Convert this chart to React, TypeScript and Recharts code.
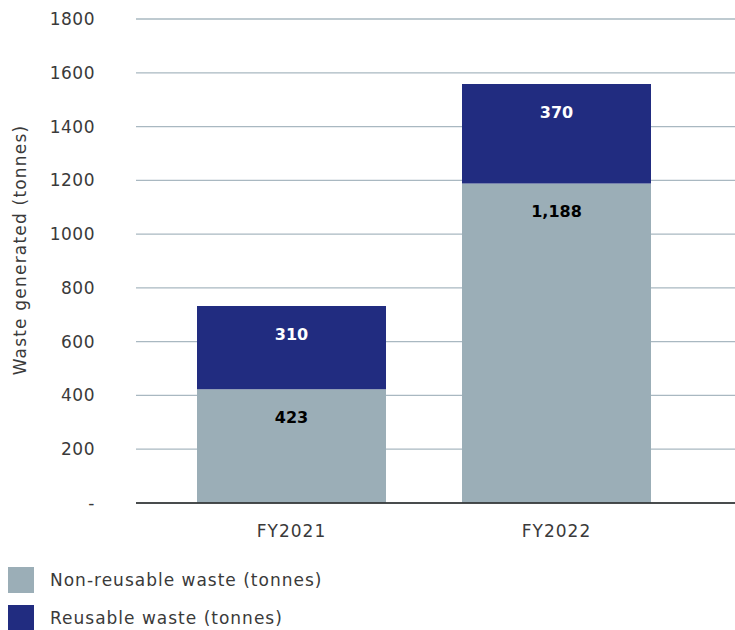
import React from 'react';
import { BarChart, Bar, XAxis, YAxis, CartesianGrid, Legend, LabelList } from 'recharts';

const categories = ['FY2021', 'FY2022'];
const nonReusable = [423, 1188];
const reusable = [310, 370];
const yTicks = [0, 200, 400, 600, 800, 1000, 1200, 1400, 1600, 1800];

const seriesNames = ['Non-reusable waste (tonnes)', 'Reusable waste (tonnes)'];
const GRAY = '#9BAEB7';
const NAVY = '#212C80';
const FONT = '"DejaVu Sans", sans-serif';
const TEXT = '#3a3a3a';

const data = categories.map((c, i) => ({ name: c, nonReusable: nonReusable[i], reusable: reusable[i] }));

const fmt = (v: number) => v.toLocaleString('en-US');

const LegendContent = () => (
  <div style={{ height: 64, position: 'relative', fontFamily: FONT }}>
    {[GRAY, NAVY].map((col, i) => (
      <div key={i} style={{ position: 'absolute', left: 8, top: 1 + i * 38, display: 'flex', alignItems: 'center', whiteSpace: 'nowrap' }}>
        <div style={{ width: 26, height: 26, background: col }} />
        <span style={{ marginLeft: 16, fontSize: 17, letterSpacing: 1, color: TEXT }}>{seriesNames[i]}</span>
      </div>
    ))}
  </div>
);

export default function App() {
  return (
    <div style={{ position: 'absolute', left: 0, top: 0, width: 735, height: 630, overflow: 'hidden', background: '#fff' }}>
      <BarChart width={735} height={630} data={data} margin={{ top: 19, right: 0, bottom: 0, left: 0 }}>
        <CartesianGrid vertical={false} stroke="#A9B8C1" strokeWidth={1.3} />
        <XAxis
          dataKey="name"
          height={63}
          padding={{ left: 23, right: 46 }}
          axisLine={{ stroke: '#222', strokeWidth: 1.5 }}
          tickLine={false}
          tickMargin={16}
          tick={{ fontSize: 17, fill: TEXT, fontFamily: FONT, letterSpacing: 1 }}
        />
        <YAxis
          width={136}
          domain={[0, 1800]}
          ticks={yTicks}
          axisLine={false}
          tickLine={false}
          tickSize={0}
          tickMargin={41}
          interval={0}
          tickFormatter={(v: number) => (v === 0 ? '-' : String(v))}
          tick={{ fontSize: 17, fill: TEXT, fontFamily: FONT, letterSpacing: 0.5 }}
          label={{
            content: (props: any) => {
              const vb = props.viewBox;
              const cx = vb.x + 20;
              const cy = vb.y + vb.height / 2 - 11;
              return (
                <text x={cx} y={cy} transform={`rotate(-90, ${cx}, ${cy})`} textAnchor="middle" dominantBaseline="central" fontSize={17} letterSpacing={1.2} fill={TEXT} fontFamily={FONT}>
                  Waste generated (tonnes)
                </text>
              );
            },
          }}
        />
        <Legend verticalAlign="bottom" align="left" layout="horizontal" content={<LegendContent />} />
        <Bar dataKey="nonReusable" stackId="a" fill={GRAY} barSize={189} isAnimationActive={false} name={seriesNames[0]}>
          <LabelList dataKey="nonReusable" position="insideTop" offset={22} formatter={(v: any) => fmt(Number(v))} style={{ fontSize: 16, fontWeight: 700, fill: '#000', fontFamily: FONT }} />
        </Bar>
        <Bar dataKey="reusable" stackId="a" fill={NAVY} barSize={189} isAnimationActive={false} name={seriesNames[1]}>
          <LabelList dataKey="reusable" position="insideTop" offset={23} formatter={(v: any) => fmt(Number(v))} style={{ fontSize: 16, fontWeight: 700, fill: '#fff', fontFamily: FONT }} />
        </Bar>
      </BarChart>
    </div>
  );
}
